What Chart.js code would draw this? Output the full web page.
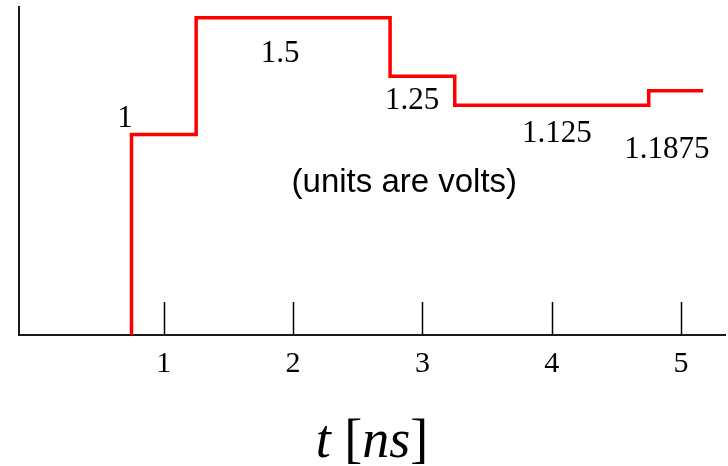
<!DOCTYPE html>
<html>
<head>
<meta charset="utf-8">
<script src="https://cdn.jsdelivr.net/npm/chart.js@4"></script>
<style>
  html, body { margin: 0; padding: 0; background: #fff; }
  #wrap { width: 728px; height: 466px; }
</style>
</head>
<body>
<div id="wrap"><canvas id="myChart"></canvas></div>
<script>
  // step edges in ns; levels[i] is the voltage held until edgeTimes[i]
  const edgeTimes = [0.75, 1.25, 2.75, 3.25, 4.75, 5.17];
  const levels = [0, 1, 1.5, 1.25, 1.125, 1.1875];
  const tickValues = [1, 2, 3, 4, 5];

  // value notes next to each level (time, volts where the text sits)
  const levelLabels = ['1', '1.5', '1.25', '1.125', '1.1875'];
  const labelTimes = [0.70, 1.90, 2.92, 4.04, 4.89];
  const labelVolts = [1.076, 1.354, 1.153, 1.011, 0.943];
  const unitsNote = '(units are volts)';
  const unitsAt = [2.86, 0.793];

  const serif = '"Liberation Serif", "Times New Roman", serif';
  const sans = '"Liberation Sans", Arial, sans-serif';

  const extras = {
    id: 'extras',
    afterDraw(chart) {
      const { ctx, chartArea, scales: { x, y } } = chart;
      ctx.save();

      // tick marks pointing up into the plot
      ctx.strokeStyle = '#000';
      ctx.lineWidth = 1.5;
      x.ticks.forEach(t => {
        const px = Math.round(x.getPixelForValue(t.value)) + 0.5;
        ctx.beginPath();
        ctx.moveTo(px, chartArea.bottom);
        ctx.lineTo(px, chartArea.bottom - 33);
        ctx.stroke();
      });

      // level values
      ctx.fillStyle = '#000';
      ctx.textAlign = 'center';
      ctx.textBaseline = 'alphabetic';
      ctx.font = '31px ' + serif;
      levelLabels.forEach((txt, i) => {
        const px = x.getPixelForValue(labelTimes[i]);
        const py = y.getPixelForValue(labelVolts[i]);
        ctx.fillText(txt, px, py + 10);
      });

      ctx.font = '33px ' + sans;
      ctx.fillText(unitsNote, x.getPixelForValue(unitsAt[0]), y.getPixelForValue(unitsAt[1]) + 9);

      // axis title: t [ns]
      const parts = [
        ['t', 'italic'], [' [', 'normal'], ['ns', 'italic'], [']', 'normal']
      ];
      ctx.textAlign = 'left';
      let total = 0;
      parts.forEach(p => { ctx.font = p[1] + ' 54px ' + serif; p.push(ctx.measureText(p[0]).width); total += p[2]; });
      let cx = (chartArea.left + chartArea.right) / 2 - total / 2;
      parts.forEach(p => {
        ctx.font = p[1] + ' 54px ' + serif;
        ctx.fillText(p[0], cx, 457);
        cx += p[2];
      });

      ctx.restore();
    }
  };

  const ctx = document.getElementById('myChart');

  new Chart(ctx, {
    type: 'line',
    data: {
      datasets: [{
        data: edgeTimes.map((t, i) => ({ x: t, y: levels[i] })),
        borderColor: '#ff0000',
        borderWidth: 3.5,
        stepped: 'after',
        pointRadius: 0,
        fill: false,
        clip: 0
      }]
    },
    options: {
      animation: false,
      responsive: true,
      maintainAspectRatio: false,
      devicePixelRatio: 1,
      layout: { padding: { left: 0, top: 7, right: 3, bottom: 0 } },
      plugins: { legend: { display: false }, tooltip: { enabled: false } },
      scales: {
        x: {
          type: 'linear',
          min: -0.12,
          max: 5.34,
          afterBuildTicks: s => { s.ticks = tickValues.map(v => ({ value: v })); },
          afterFit: s => { s.height = 131; },
          grid: { display: false, drawTicks: false },
          border: { display: true, color: '#1a1a1a', width: 2 },
          ticks: {
            color: '#000',
            padding: 11,
            maxRotation: 0,
            font: { family: serif, size: 30 }
          }
        },
        y: {
          type: 'linear',
          min: 0.142,
          max: 1.546,
          afterFit: s => { s.width = 19; },
          grid: { display: false, drawTicks: false },
          border: { display: true, color: '#1a1a1a', width: 2 },
          ticks: { display: false }
        }
      }
    },
    plugins: [extras]
  });
</script>
</body>
</html>
